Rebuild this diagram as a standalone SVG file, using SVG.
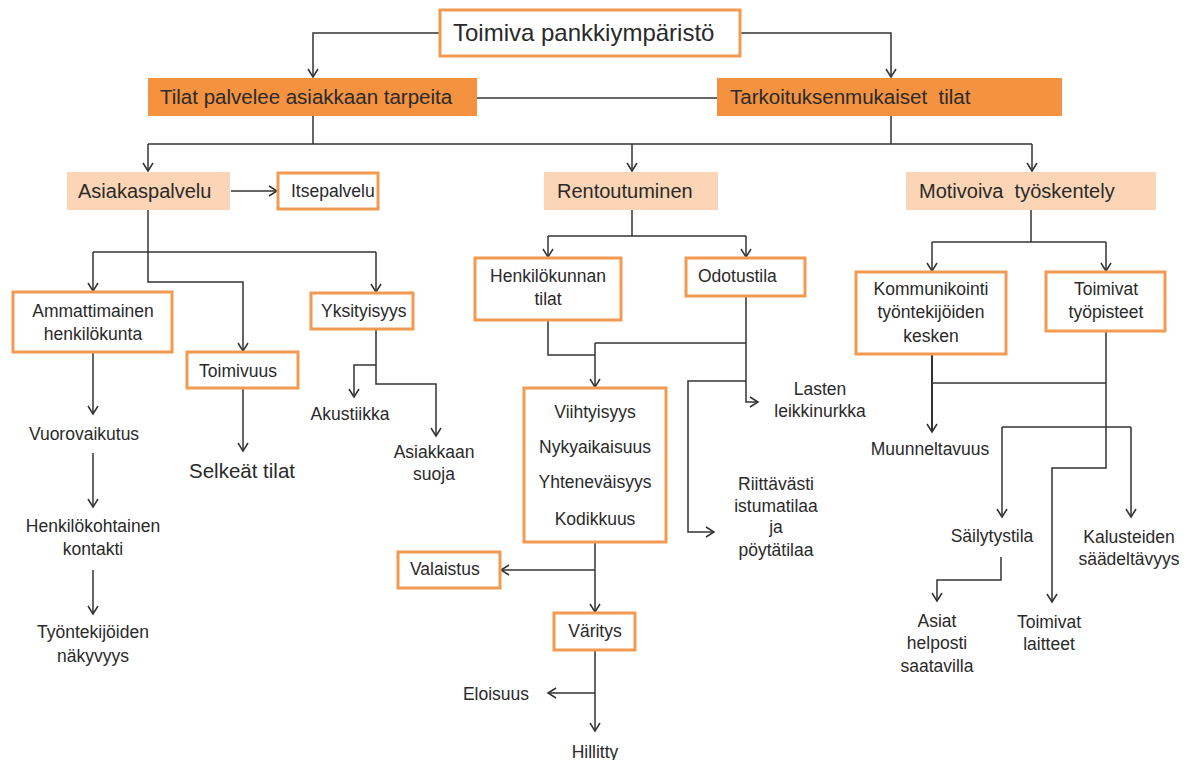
<svg xmlns="http://www.w3.org/2000/svg" width="1194" height="760" viewBox="0 0 1194 760">
<style>
text{font-family:"Liberation Sans",Arial,sans-serif;fill:#2a2a2a;font-size:17.5px}
.c{text-anchor:middle}
.title{font-size:24px}
.big{font-size:20.5px}
.mid{font-size:20px}
.sel{font-size:20.5px}
.dark{fill:#f4923f}
.light{fill:#fbd5b5}
.box{fill:#fff;stroke:#f39a52;stroke-width:3}
#connectors path{fill:none;stroke:#333;stroke-width:1.5}
</style>
<defs>
<marker id="ar" markerUnits="userSpaceOnUse" markerWidth="14" markerHeight="14" refX="11" refY="7" orient="auto">
<path d="M3,2 L11,7 L3,12" fill="none" stroke="#333" stroke-width="1.5"/>
</marker>
</defs>
<rect width="1194" height="760" fill="#fff"/>
<g id="connectors">
<path d="M440,33 H313 V77" marker-end="url(#ar)"/>
<path d="M740,33 H891 V77" marker-end="url(#ar)"/>
<path d="M477,98 H717"/>
<path d="M313,116 V144"/>
<path d="M891,116 V144"/>
<path d="M148,144 H1032"/>
<path d="M148,144 V171" marker-end="url(#ar)"/>
<path d="M632,144 V171" marker-end="url(#ar)"/>
<path d="M1032,144 V171" marker-end="url(#ar)"/>
<path d="M231,191 H277" marker-end="url(#ar)"/>
<path d="M148,210 V252"/>
<path d="M93,252 H376"/>
<path d="M93,252 V291" marker-end="url(#ar)"/>
<path d="M376,252 V292" marker-end="url(#ar)"/>
<path d="M148,252 V282 H243 V351" marker-end="url(#ar)"/>
<path d="M93,352 V414" marker-end="url(#ar)"/>
<path d="M93,453 V507" marker-end="url(#ar)"/>
<path d="M93,570 V614" marker-end="url(#ar)"/>
<path d="M243,388 V451" marker-end="url(#ar)"/>
<path d="M376,329 V384 H436 V436" marker-end="url(#ar)"/>
<path d="M376,365 H354 V397" marker-end="url(#ar)"/>
<path d="M632,210 V236"/>
<path d="M548,236 H746"/>
<path d="M548,236 V257" marker-end="url(#ar)"/>
<path d="M746,236 V257" marker-end="url(#ar)"/>
<path d="M548,320 V355 H595"/>
<path d="M746,296 V402 H758" marker-end="url(#ar)"/>
<path d="M595,343 H746"/>
<path d="M595,343 V387" marker-end="url(#ar)"/>
<path d="M746,381 H688 V532 H714" marker-end="url(#ar)"/>
<path d="M595,542 V612" marker-end="url(#ar)"/>
<path d="M595,570 H501" marker-end="url(#ar)"/>
<path d="M595,650 V731" marker-end="url(#ar)"/>
<path d="M595,693 H548" marker-end="url(#ar)"/>
<path d="M1031,210 V242"/>
<path d="M932,242 H1106"/>
<path d="M932,242 V271" marker-end="url(#ar)"/>
<path d="M1106,242 V271" marker-end="url(#ar)"/>
<path d="M932,354 V432" marker-end="url(#ar)" style="stroke-width:2"/>
<path d="M932,383 H1106"/>
<path d="M1106,331 V468 H1052 V602" marker-end="url(#ar)"/>
<path d="M1002,427 H1131"/>
<path d="M1002,427 V517" marker-end="url(#ar)"/>
<path d="M1131,427 V517" marker-end="url(#ar)"/>
<path d="M1001,557 V580 H937 V601" marker-end="url(#ar)"/>
</g>
<g id="n-root"><rect class="box" x="440" y="10" width="300" height="46"/><text class="title" x="453" y="41">Toimiva pankkiympäristö</text></g>
<g id="n-tilat"><rect class="dark" x="148" y="78" width="329" height="38"/><text class="big" x="160" y="104">Tilat palvelee asiakkaan tarpeita</text></g>
<g id="n-tarkoitus"><rect class="dark" x="717" y="78" width="345" height="38"/><text class="big" x="730" y="104" xml:space="preserve">Tarkoituksenmukaiset  tilat</text></g>
<g id="n-asiakaspalvelu"><rect class="light" x="67" y="172" width="163" height="38"/><text class="mid" x="78" y="198">Asiakaspalvelu</text></g>
<g id="n-itsepalvelu"><rect class="box" x="278" y="173" width="100" height="36"/><text x="291" y="197">Itsepalvelu</text></g>
<g id="n-rentoutuminen"><rect class="light" x="544" y="172" width="174" height="38"/><text class="mid" x="557" y="198">Rentoutuminen</text></g>
<g id="n-motivoiva"><rect class="light" x="906" y="172" width="250" height="38"/><text class="mid" x="919" y="198" xml:space="preserve">Motivoiva  työskentely</text></g>
<g id="n-ammatti"><rect class="box" x="13" y="292" width="159" height="60"/><text class="c" x="93" y="317">Ammattimainen</text><text class="c" x="93" y="340">henkilökunta</text></g>
<g id="n-toimivuus"><rect class="box" x="187" y="352" width="111" height="36"/><text class="c" x="238" y="377">Toimivuus</text></g>
<g id="n-yksityisyys"><rect class="box" x="311" y="293" width="102" height="36"/><text x="321" y="317">Yksityisyys</text></g>
<g id="n-vuoro"><text class="c" x="84" y="440">Vuorovaikutus</text></g>
<g id="n-henkilokoht"><text class="c" x="93" y="532">Henkilökohtainen</text><text class="c" x="93" y="555">kontakti</text></g>
<g id="n-nakyvyys"><text class="c" x="93" y="638">Työntekijöiden</text><text class="c" x="93" y="662">näkyvyys</text></g>
<g id="n-selkeat"><text class="c sel" x="242" y="478">Selkeät tilat</text></g>
<g id="n-akustiikka"><text class="c" x="350" y="420">Akustiikka</text></g>
<g id="n-suoja"><text class="c" x="434" y="458">Asiakkaan</text><text class="c" x="434" y="480">suoja</text></g>
<g id="n-henkilokunnan"><rect class="box" x="475" y="258" width="146" height="62"/><text class="c" x="548" y="282">Henkilökunnan</text><text class="c" x="548" y="305">tilat</text></g>
<g id="n-odotustila"><rect class="box" x="686" y="258" width="119" height="38"/><text x="698" y="282">Odotustila</text></g>
<g id="n-viihtyisyys"><rect class="box" x="524" y="388" width="142" height="154"/><text class="c" x="595" y="418">Viihtyisyys</text><text class="c" x="595" y="453">Nykyaikaisuus</text><text class="c" x="595" y="488">Yhteneväisyys</text><text class="c" x="595" y="525">Kodikkuus</text></g>
<g id="n-lasten"><text class="c" x="820" y="395">Lasten</text><text class="c" x="820" y="417">leikkinurkka</text></g>
<g id="n-riittavasti"><text class="c" x="776" y="490">Riittävästi</text><text class="c" x="776" y="512">istumatilaa</text><text class="c" x="776" y="533">ja</text><text class="c" x="776" y="556">pöytätilaa</text></g>
<g id="n-valaistus"><rect class="box" x="398" y="552" width="102" height="36"/><text x="410" y="575">Valaistus</text></g>
<g id="n-varitys"><rect class="box" x="554" y="613" width="81" height="37"/><text class="c" x="595" y="637">Väritys</text></g>
<g id="n-eloisuus"><text class="c" x="496" y="700">Eloisuus</text></g>
<g id="n-hillitty"><text class="c" x="595" y="758">Hillitty</text></g>
<g id="n-kommunikointi"><rect class="box" x="856" y="272" width="150" height="82"/><text class="c" x="931" y="295">Kommunikointi</text><text class="c" x="931" y="318">työntekijöiden</text><text class="c" x="931" y="342">kesken</text></g>
<g id="n-tyopisteet"><rect class="box" x="1046" y="272" width="119" height="59"/><text class="c" x="1106" y="295">Toimivat</text><text class="c" x="1106" y="318">työpisteet</text></g>
<g id="n-muunneltavuus"><text class="c" x="930" y="455">Muunneltavuus</text></g>
<g id="n-sailytystila"><text class="c" x="992" y="542">Säilytystila</text></g>
<g id="n-asiat"><text class="c" x="937" y="627">Asiat</text><text class="c" x="937" y="649">helposti</text><text class="c" x="937" y="672">saatavilla</text></g>
<g id="n-laitteet"><text class="c" x="1049" y="628">Toimivat</text><text class="c" x="1049" y="650">laitteet</text></g>
<g id="n-kalusteiden"><text class="c" x="1129" y="543">Kalusteiden</text><text class="c" x="1129" y="565">säädeltävyys</text></g>
</svg>
